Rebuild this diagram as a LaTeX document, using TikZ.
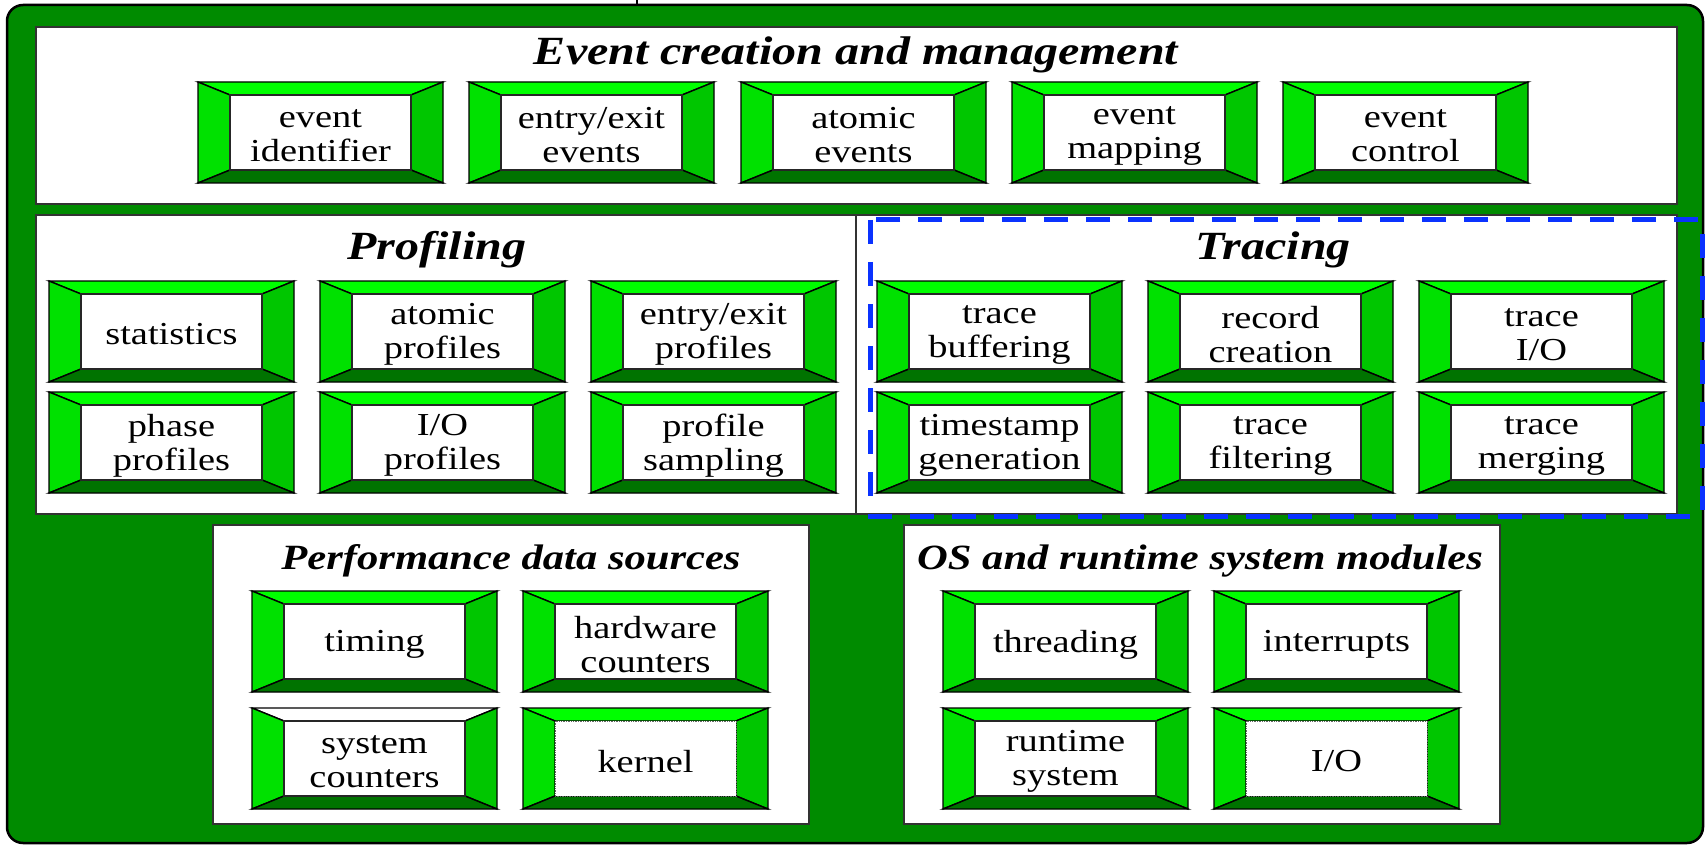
\documentclass[tikz,border=0pt]{standalone}
\usepackage{fontspec}
\setmainfont[FakeStretch=1.2]{Liberation Serif}
\definecolor{framegreen}{RGB}{0,139,0}
\definecolor{bvT}{RGB}{0,255,0}
\definecolor{bvL}{RGB}{0,225,0}
\definecolor{bvR}{RGB}{0,198,0}
\definecolor{bvB}{RGB}{0,115,0}
\definecolor{dashblue}{RGB}{10,50,255}
\tikzset{
  bevel/.style={draw=black,line width=1.4pt,line join=miter},
  bevtop/.style={fill=bvT},
  bevinner/.style={draw=black!85},
  whitebox/.style={fill=white,line width=1.4pt,minimum width=181pt,minimum height=75pt,inner sep=0pt},
  lbl/.style={inner sep=0pt,align=center,font=\fontsize{32pt}{34pt}\selectfont},
  panel/.style={fill=white,draw=black!80,line width=1.6pt},
  ttl/.style={anchor=base,inner sep=0pt,font=\fontsize{40pt}{44pt}\selectfont\bfseries\itshape},
  sttl/.style={anchor=base,inner sep=0pt,font=\fontsize{35.5pt}{38pt}\selectfont\bfseries\itshape},
  tracebox/.style={draw=dashblue,line width=5pt,dash pattern=on 24pt off 18pt}
}
\newcommand\bev[5][]{%
  \begin{scope}[shift={(#3,#4)},#1]
    \filldraw[bevel,bevtop] (0,0)--(245,0)--(213,13)--(32,13)--cycle;
    \filldraw[bevel,fill=bvL] (0,0)--(32,13)--(32,88)--(0,101)--cycle;
    \filldraw[bevel,fill=bvR] (245,0)--(213,13)--(213,88)--(245,101)--cycle;
    \filldraw[bevel,fill=bvB] (0,101)--(32,88)--(213,88)--(245,101)--cycle;
    \node[whitebox,bevinner] (#2) at (122.5,50.5) {};
    \node[lbl] (#2-t) at (122.5,53.5) {#5};
  \end{scope}}
\begin{document}
\begin{tikzpicture}[x=1pt,y=-1pt]
\useasboundingbox (0,0) rectangle (1706,845);
\draw[line width=1.2pt] (637,0) -- (637,6);
\filldraw[fill=framegreen,draw=black,line width=2.5pt,rounded corners=16pt] (7,5) rectangle (1703,843);
% panels
\filldraw[panel] (36,27) rectangle (1677,204);
\filldraw[panel] (36,215) rectangle (1677,514);
\draw[draw=black!80,line width=1.6pt] (856,215) -- (856,514);
\filldraw[panel] (213,525) rectangle (809,824);
\filldraw[panel] (904,525) rectangle (1500,824);
% titles
\node[ttl] (tevent) at (856,65) {Event creation and management};
\node[ttl] (tprof) at (437,260) {Profiling};
\node[ttl] (ttrace) at (1273,260) {Tracing};
\node[sttl] (tperf) at (511,569) {Performance data sources};
\node[sttl] (tos) at (1200,569) {OS and runtime system modules};
% event creation
\bev{eid}{198}{82}{event\\identifier}
\bev{eee}{469}{82}{entry/exit\\events}
\bev{eae}{741}{82}{atomic\\events}
\bev{emap}{1012}{82}{event\\mapping}
\bev{ectl}{1283}{82}{event\\control}
% profiling
\bev{pstat}{49}{281}{statistics}
\bev{pato}{320}{281}{atomic\\profiles}
\bev{pee}{591}{281}{entry/exit\\profiles}
\bev{pphase}{49}{392}{phase\\profiles}
\bev{pio}{320}{392}{I/O\\profiles}
\bev{psamp}{591}{392}{profile\\sampling}
% tracing
\bev{tbuf}{877}{281}{trace\\buffering}
\bev{trec}{1148}{281}{record\\creation}
\bev{tio}{1419}{281}{trace\\I/O}
\bev{tts}{877}{392}{timestamp\\generation}
\bev{tfil}{1148}{392}{trace\\filtering}
\bev{tmer}{1419}{392}{trace\\merging}
% performance data sources
\bev{dtim}{252}{591}{timing}
\bev{dhw}{523}{591}{hardware\\counters}
\bev[bevtop/.style={fill=white}]{dsys}{252}{708}{system\\counters}
\bev[bevinner/.style={draw=black!60,densely dotted,line width=1pt}]{dker}{523}{708}{kernel}
% OS modules
\bev{othr}{943}{591}{threading}
\bev{oint}{1214}{591}{interrupts}
\bev{ort}{943}{708}{runtime\\system}
\bev[bevinner/.style={draw=black!60,densely dotted,line width=1pt}]{oio}{1214}{708}{I/O}
% tracing highlight
\draw[tracebox] (870,220) rectangle (1702,516);
\end{tikzpicture}
\end{document}
